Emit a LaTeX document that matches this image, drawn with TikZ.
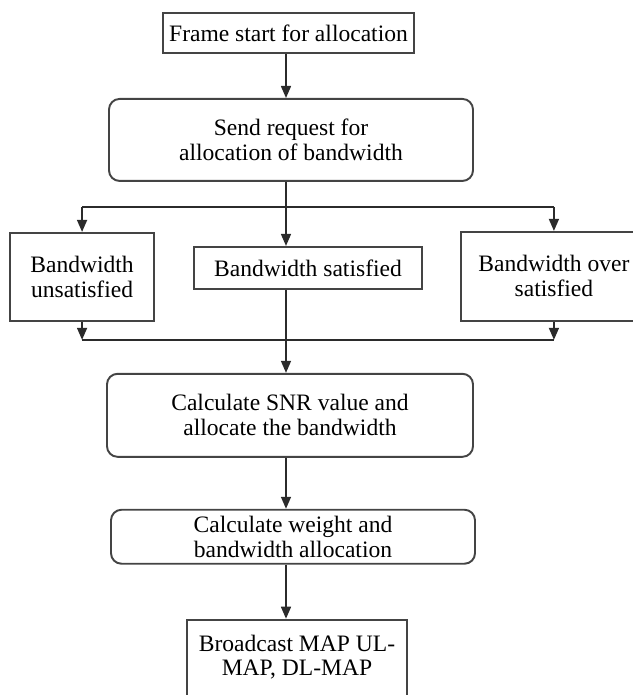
\documentclass[tikz,border=0pt]{standalone}
\usepackage{fontspec}
\setmainfont{Liberation Serif}
\usetikzlibrary{arrows.meta,positioning,calc}
\definecolor{BoxLine}{HTML}{444444}
\definecolor{ArrowLine}{HTML}{2B2B2B}

\begin{document}
\begin{tikzpicture}[
    box/.style={draw=BoxLine, fill=white, line width=1.1pt, align=center, inner sep=2pt, font=\fontsize{13.4}{14.2}\selectfont},
    roundbox/.style={box, rounded corners=6pt},
    arr/.style={-{Triangle[length=2.4mm, width=2mm]}, draw=ArrowLine, line width=0.9pt},
    link/.style={draw=ArrowLine, line width=0.9pt}
  ]
    \useasboundingbox (0,0) rectangle (12.66,-13.9);
    \coordinate (spine) at (5.72,0);
    \node[box, minimum width=5.02cm, minimum height=0.8cm] (frame) at (5.77,-0.66) {Frame start for allocation};
    \node[roundbox, minimum width=7.28cm, minimum height=1.64cm, below=0.88cm of frame, xshift=0.05cm] (send) {Send request for\\allocation of bandwidth};
    \node[box, minimum width=4.56cm, minimum height=0.84cm, below=1.28cm of send, xshift=0.34cm] (sat) {Bandwidth satisfied};
    \node[box, minimum width=2.88cm, minimum height=1.76cm, left=0.76cm of sat, yshift=-0.18cm] (unsat) {Bandwidth\\unsatisfied};
    \node[box, minimum width=3.72cm, minimum height=1.78cm, right=0.74cm of sat, yshift=-0.17cm] (over) {Bandwidth over\\satisfied};
    \node[roundbox, minimum width=7.32cm, minimum height=1.66cm, below=1.66cm of sat, xshift=-0.36cm] (snr) {Calculate SNR value and\\allocate the bandwidth};
    \node[roundbox, minimum width=7.28cm, minimum height=1.08cm, below=1.02cm of snr, xshift=0.06cm] (weight) {Calculate weight and\\bandwidth allocation};
    \node[box, minimum width=4.4cm, inner ysep=0.3cm, text depth=1.4cm, below=1.08cm of weight, xshift=0.08cm] (bcast) {Broadcast MAP UL-\\MAP, DL-MAP};

    \draw[arr] (frame.south -| spine) -- (send.north -| spine);
    \draw[arr] (send.south -| spine) -- (sat.north -| spine);
    % fork to the three cases
    \coordinate (fork) at ($(send.south -| spine)+(0,-0.5)$);
    \draw[link] (fork -| unsat) -- (fork -| over);
    \draw[arr] (fork -| unsat) -- (unsat);
    \draw[arr] (fork -| over) -- (over);
    % join back
    \coordinate (join) at ($(unsat.south)+(0,-0.36)$);
    \draw[arr] (unsat) -- (join);
    \draw[arr] (over) -- (join -| over);
    \draw[link] (join) -- (join -| over);
    \draw[arr] (sat.south -| spine) -- (snr.north -| spine);
    \draw[arr] (snr.south -| spine) -- (weight.north -| spine);
    \draw[arr] (weight.south -| spine) -- (bcast.north -| spine);
  \end{tikzpicture}
\end{document}
